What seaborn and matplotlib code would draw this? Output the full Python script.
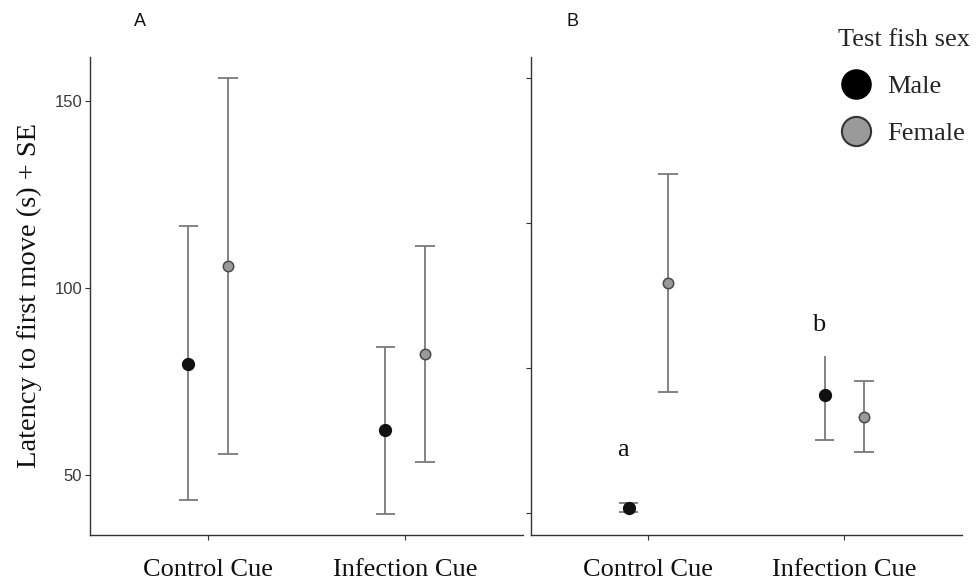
import numpy as np
import pandas as pd
import matplotlib
matplotlib.use("Agg")
import matplotlib.pyplot as plt
from matplotlib.lines import Line2D
import seaborn as sns

# ---------------- data ----------------
cues = ["Control Cue", "Infection Cue"]
sexes = ["Male", "Female"]

# Panel A
a_male_mean = [79.8, 62.0]
a_male_upper = [116.5, 84.2]
a_male_lower = [43.3, 39.5]
a_female_mean = [105.9, 82.3]
a_female_upper = [156.0, 111.2]
a_female_lower = [55.7, 53.5]

# Panel B
b_male_mean = [41.4, 72.6]
b_male_upper = [42.8, 83.5]
b_male_lower = [40.3, 60.3]
b_female_mean = [103.6, 66.6]
b_female_upper = [133.7, 76.5]
b_female_lower = [73.5, 56.8]

a_yticks = [50, 100, 150]
b_yticks = [40, 80, 120, 160]
b_letters = ["a", "b"]
b_letter_y = [57.5, 91.9]

# ---------------- style ----------------
sns.set_theme(style="white")
plt.rcParams["font.family"] = ["Liberation Sans", "DejaVu Sans"]
SERIF = ["Liberation Serif", "DejaVu Serif"]
SPINE = "#333333"
ERR = "#7a7a7a"
FEMALE_FILL = "#9a9a9a"
MALE_FILL = "#111111"
DODGE = 0.2
CAPW = 0.05


def make_df(mm, mu, ml, fm, fu, fl):
    rows = []
    for i, c in enumerate(cues):
        rows.append(dict(cue=c, sex="Male", mean=mm[i], upper=mu[i], lower=ml[i]))
        rows.append(dict(cue=c, sex="Female", mean=fm[i], upper=fu[i], lower=fl[i]))
    return pd.DataFrame(rows)


df_a = make_df(a_male_mean, a_male_upper, a_male_lower,
               a_female_mean, a_female_upper, a_female_lower)
df_b = make_df(b_male_mean, b_male_upper, b_male_lower,
               b_female_mean, b_female_upper, b_female_lower)
df_b["top_cap"] = [True, True, False, True]
df_a["top_cap"] = True

fig = plt.figure(figsize=(9.76, 5.81), dpi=100)
W, H = 976, 581
axA = fig.add_axes([90 / W, 1 - 535 / H, (523.3 - 90) / W, (535 - 56.7) / H])
axB = fig.add_axes([530.7 / W, 1 - 535 / H, (961.7 - 530.7) / W, (535 - 56.7) / H])


def draw_panel(ax, df, ylim, yticks, show_labels):
    sns.pointplot(data=df, x="cue", y="mean", hue="sex", order=cues,
                  hue_order=sexes, dodge=DODGE, linestyle="none",
                  errorbar=None, markers="o", palette=[MALE_FILL, FEMALE_FILL],
                  legend=False, ax=ax)
    for ln, sx in zip(ax.lines, sexes):
        ln.set_markersize(7.5)
        ln.set_zorder(5)
        if sx == "Male":
            ln.set_markerfacecolor(MALE_FILL)
            ln.set_markeredgecolor(MALE_FILL)
        else:
            ln.set_markerfacecolor(FEMALE_FILL)
            ln.set_markeredgecolor("#4a4a4a")
            ln.set_markeredgewidth(1.1)
    # error bars
    for _, r in df.iterrows():
        x = cues.index(r["cue"]) + (-DODGE / 2 if r["sex"] == "Male" else DODGE / 2)
        ax.vlines(x, r["lower"], r["upper"], color=ERR, lw=1.3, zorder=2)
        ax.hlines(r["lower"], x - CAPW, x + CAPW, color=ERR, lw=1.3, zorder=2)
        if r["top_cap"]:
            ax.hlines(r["upper"], x - CAPW, x + CAPW, color=ERR, lw=1.3, zorder=2)
    ax.set_xlim(-0.6, 1.6)
    ax.set_ylim(*ylim)
    ax.set_yticks(yticks)
    ax.set_xlabel("")
    ax.set_ylabel("")
    for s in ["top", "right"]:
        ax.spines[s].set_visible(False)
    for s in ["left", "bottom"]:
        ax.spines[s].set_color(SPINE)
        ax.spines[s].set_linewidth(1.0)
    ax.tick_params(axis="both", which="both", direction="out", length=3.5,
                   width=0.8, color=SPINE, left=True, bottom=True)
    ax.tick_params(axis="y", labelsize=12, labelcolor="#3a3a3a", pad=2)
    ax.tick_params(axis="x", pad=14)
    for lab in ax.get_xticklabels():
        lab.set_fontfamily(SERIF)
        lab.set_fontsize(19)
        lab.set_color("#111111")
    if not show_labels:
        ax.set_yticklabels([])


draw_panel(axA, df_a, (34.0, 161.8), a_yticks, True)
draw_panel(axB, df_b, (34.0, 166.0), b_yticks, False)

axA.set_ylabel("Latency to first move (s) + SE", family=SERIF, fontsize=20.5,
               color="#111111")
axA.yaxis.set_label_coords((42 - 90) / (523.3 - 90), 0.5)

# significance letters in panel B
for i, (lt, ly) in enumerate(zip(b_letters, b_letter_y)):
    axB.text(i - DODGE / 2 - 0.03, ly, lt, family=SERIF, fontsize=19,
             ha="center", va="center", color="#111111")

# panel labels
fig.text(140 / W, 1 - 21.5 / H, "A", fontsize=13, ha="center", va="center",
         color="#111111")
fig.text(573 / W, 1 - 21.5 / H, "B", fontsize=13, ha="center", va="center",
         color="#111111")

# legend
handles = [
    Line2D([], [], linestyle="none", marker="o", markersize=21,
           markerfacecolor="black", markeredgecolor="black"),
    Line2D([], [], linestyle="none", marker="o", markersize=21,
           markerfacecolor=FEMALE_FILL, markeredgecolor="#333333",
           markeredgewidth=1.5),
]
leg = fig.legend(handles, sexes, title="Test fish sex", loc="upper left",
                 bbox_to_anchor=(838 / W, 1 - 29 / H), frameon=False,
                 prop={"family": SERIF, "size": 19},
                 title_fontproperties={"family": SERIF, "size": 19},
                 alignment="left", handletextpad=0.45, labelspacing=0.9,
                 borderpad=0, borderaxespad=0, handlelength=1.4)

fig.savefig("out.png", dpi=100)
